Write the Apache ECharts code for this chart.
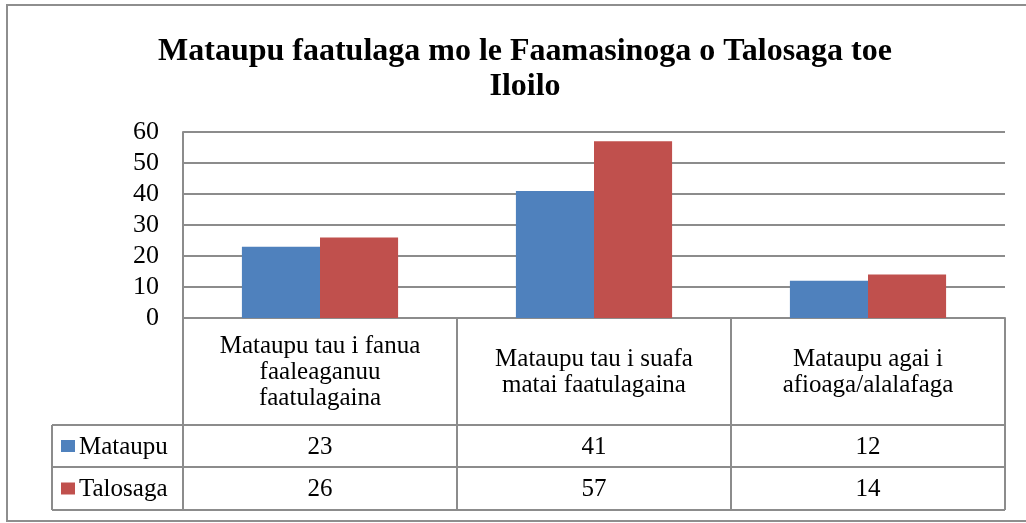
<!DOCTYPE html>
<html>
<head>
<meta charset="utf-8">
<script src="https://cdn.jsdelivr.net/npm/echarts@6/dist/echarts.min.js"></script>
<style>
  html, body { margin: 0; padding: 0; background: #fff; }
  #chart { width: 1026px; height: 523px; }
</style>
</head>
<body>
<div id="chart"></div>
<script>
  // data
  var categories = [
    'Mataupu tau i fanua\nfaaleaganuu\nfaatulagaina',
    'Mataupu tau i suafa\nmatai faatulagaina',
    'Mataupu agai i\nafioaga/alalafaga'
  ];
  var seriesNames = ['Mataupu', 'Talosaga'];
  var mataupu = [23, 41, 12];
  var talosaga = [26, 57, 14];
  var yTicks = [0, 10, 20, 30, 40, 50, 60];

  var colors = ['#4F81BD', '#C0504D'];
  var lineColor = '#8C8C8C';
  var serif = '"Liberation Serif", "Times New Roman", serif';

  // layout (px)
  var plotL = 183, plotR = 1005, plotT = 132, plotB = 318;
  var tableL = 52;
  var rowLines = [425, 467, 510];

  var myChart = echarts.init(document.getElementById('chart'));

  // table rows (legend + values)
  var graphics = [];
  graphics.push({
    type: 'rect', shape: { x: 7, y: 5, width: 1040, height: 516 },
    style: { fill: 'none', stroke: '#8E8E8E', lineWidth: 2 }, z: 0
  });
  rowLines.forEach(function (y) {
    graphics.push({
      type: 'line', shape: { x1: tableL, y1: y, x2: plotR, y2: y },
      style: { stroke: lineColor, lineWidth: 2 }, z: 10
    });
  });
  graphics.push({
    type: 'line', shape: { x1: tableL, y1: rowLines[0], x2: tableL, y2: rowLines[2] },
    style: { stroke: lineColor, lineWidth: 2 }, z: 10
  });
  var rows = [mataupu, talosaga];
  var catW = (plotR - plotL) / categories.length;
  rows.forEach(function (vals, r) {
    var cy = (rowLines[r] + rowLines[r + 1]) / 2;
    graphics.push({
      type: 'rect', shape: { x: 61, y: cy - 6, width: 14, height: 12 },
      style: { fill: colors[r] }, z: 10
    });
    graphics.push({
      type: 'text', x: 79, y: cy + 1,
      style: { text: seriesNames[r], font: '25px ' + serif, fill: '#000', verticalAlign: 'middle', align: 'left' },
      z: 10
    });
    vals.forEach(function (v, i) {
      graphics.push({
        type: 'text', x: plotL + catW * (i + 0.5), y: cy + 1,
        style: { text: String(v), font: '25px ' + serif, fill: '#000', verticalAlign: 'middle', align: 'center' },
        z: 10
      });
    });
  });

  var option = {
    backgroundColor: '#fff',
    animation: false,
    title: {
      text: 'Mataupu faatulaga mo le Faamasinoga o Talosaga toe\nIloilo',
      left: 520,
      top: 29,
      textAlign: 'center',
      textStyle: {
        fontFamily: serif,
        fontWeight: 'bold',
        fontSize: 32,
        lineHeight: 35,
        color: '#000'
      }
    },
    grid: {
      left: plotL,
      right: 1026 - plotR,
      top: plotT,
      bottom: 523 - plotB,
      containLabel: false
    },
    xAxis: {
      type: 'category',
      data: categories,
      axisLine: { show: true, lineStyle: { color: lineColor, width: 2 } },
      axisTick: { show: true, length: 192, lineStyle: { color: lineColor, width: 2 } },
      axisLabel: {
        interval: 0,
        margin: 54,
        verticalAlign: 'middle',
        align: 'center',
        fontFamily: serif,
        fontSize: 25,
        lineHeight: 26,
        color: '#000'
      }
    },
    yAxis: {
      type: 'value',
      min: yTicks[0],
      max: yTicks[yTicks.length - 1],
      interval: 10,
      axisLine: { show: true, lineStyle: { color: lineColor, width: 2 } },
      axisTick: { show: false },
      splitLine: { show: true, lineStyle: { color: lineColor, width: 2 } },
      axisLabel: {
        margin: 24,
        fontFamily: serif,
        fontSize: 26,
        color: '#000'
      }
    },
    series: [
      {
        name: seriesNames[0],
        type: 'bar',
        data: mataupu,
        barGap: '0%',
        barCategoryGap: '43%',
        itemStyle: { color: colors[0] },
        z: 5
      },
      {
        name: seriesNames[1],
        type: 'bar',
        data: talosaga,
        itemStyle: { color: colors[1] },
        z: 5
      }
    ],
    graphic: graphics
  };

  myChart.setOption(option);
</script>
</body>
</html>
